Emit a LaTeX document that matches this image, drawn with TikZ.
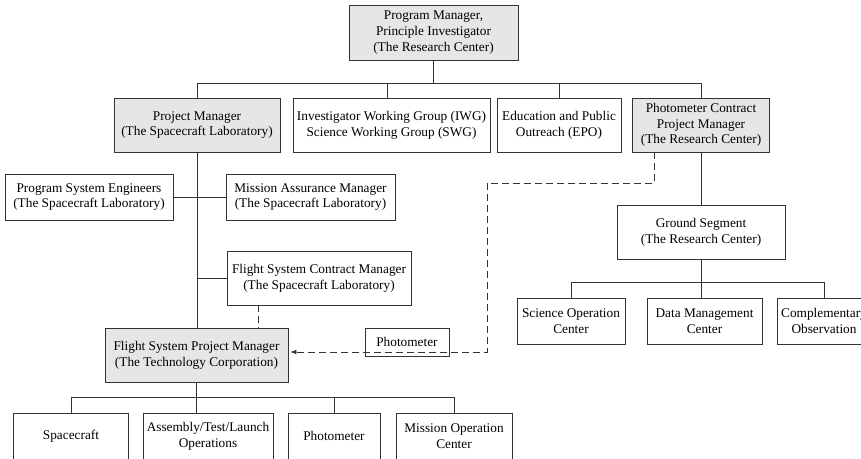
\documentclass[tikz,border=0pt]{standalone}
\usepackage{fontspec}
\setmainfont{Liberation Serif}
\usetikzlibrary{arrows.meta}

\definecolor{boxgray}{HTML}{E6E6E6}
\definecolor{linegray}{HTML}{333333}

\begin{document}
\begin{tikzpicture}[x=1pt,y=-1pt,
  box/.style={draw=linegray,line width=0.7pt,rectangle,align=center,inner sep=0pt,
    font=\fontsize{13.3}{15.7}\selectfont},
  lead/.style={box,fill=boxgray},
  link/.style={draw=linegray,line width=0.7pt},
  dashlink/.style={link,dash pattern=on 7pt off 4pt}]
\useasboundingbox (0,0) rectangle (861,458);
\clip (0,0) rectangle (861,458);

\node [lead,minimum width=169pt,minimum height=55pt] (pm) at(433.5,32.5){Program Manager,\\Principle Investigator\\(The Research Center)};

\node [lead,minimum width=166pt,minimum height=54pt] (prjm) at(197,125){Project Manager\\(The Spacecraft Laboratory)};
\node [box,minimum width=197pt,minimum height=54pt] (iwg) at(391.5,125){Investigator Working Group (IWG)\\Science Working Group (SWG)};
\node [box,minimum width=124pt,minimum height=54pt] (epo) at(559,125){Education and Public\\Outreach (EPO)};
\node [lead,minimum width=137pt,minimum height=54pt] (pcpm) at(701,125){Photometer Contract\\Project Manager\\(The Research Center)};

\node [box,minimum width=168pt,minimum height=46pt] (pse) at(89,197){Program System Engineers\\(The Spacecraft Laboratory)};
\node [box,minimum width=169pt,minimum height=46pt] (mam) at(310.5,197){Mission Assurance Manager\\(The Spacecraft Laboratory)};
\node [box,minimum width=184pt,minimum height=54pt] (fscm) at(319,278){Flight System Contract Manager\\(The Spacecraft Laboratory)};
\node [lead,minimum width=183pt,minimum height=54pt] (fspm) at(196.5,355){Flight System Project Manager\\(The Technology Corporation)};
\node [box,minimum width=84pt,minimum height=28pt] (phot) at(407,342){Photometer};

\node [box,minimum width=168pt,minimum height=54pt] (gs) at(701,232.5){Ground Segment\\(The Research Center)};
\node [box,minimum width=108pt,minimum height=46pt] (soc) at(571,321){Science Operation\\Center};
\node [box,minimum width=115pt,minimum height=46pt] (dmc) at(704.5,321){Data Management\\Center};
\node [box,minimum width=94pt,minimum height=46pt] (co) at(824,321){Complementary\\Observation};

\node [box,minimum width=115pt,minimum height=46pt] (sc) at(71,436){Spacecraft};
\node [box,minimum width=130pt,minimum height=46pt] (atl) at(208,436){Assembly/Test/Launch\\Operations};
\node [box,minimum width=92pt,minimum height=46pt] (ph) at(334,436){Photometer};
\node [box,minimum width=116pt,minimum height=46pt] (moc) at(454,436){Mission Operation\\Center};

\coordinate (topbus) at(433.5,83);
\coordinate (gsbus) at(701,282);
\coordinate (fsbus) at(196.5,397);
\coordinate (bend) at(487,183);

\draw[link] (pm.south) -- (pm.south |- topbus);
\draw[link] (prjm.north) |- (pcpm.north |- topbus) -- (pcpm.north);
\draw[link] ([xshift=-4pt]iwg.north) -- ([xshift=-4pt]iwg.north |- topbus);
\draw[link] (epo.north) -- (epo.north |- topbus);

\draw[link] (prjm.south) -- (prjm.south |- fspm.north);
\draw[link] (pse.east) -- (mam.west);
\draw[link] (fscm.west) -- (fscm.west -| prjm.south);
\draw[dashlink] ([xshift=-61pt]fscm.south) -- ([xshift=-61pt]fscm.south |- fspm.north);

\draw[dashlink,-{Latex[length=6pt,width=4.5pt]}] ([xshift=22pt]pcpm.south west) |- (bend) |- ([yshift=3pt,xshift=2pt]fspm.east);

\draw[link] (pcpm.south) -- (pcpm.south |- gs.north);
\draw[link] (gs.south) -- (gs.south |- dmc.north);
\draw[link] (soc.north) |- (co.north |- gsbus) -- (co.north);

\draw[link] (fspm.south) -- (fspm.south |- atl.north);
\draw[link] (sc.north) |- (moc.north |- fsbus) -- (moc.north);
\draw[link] (ph.north) -- (ph.north |- fsbus);

\end{tikzpicture}
\end{document}
